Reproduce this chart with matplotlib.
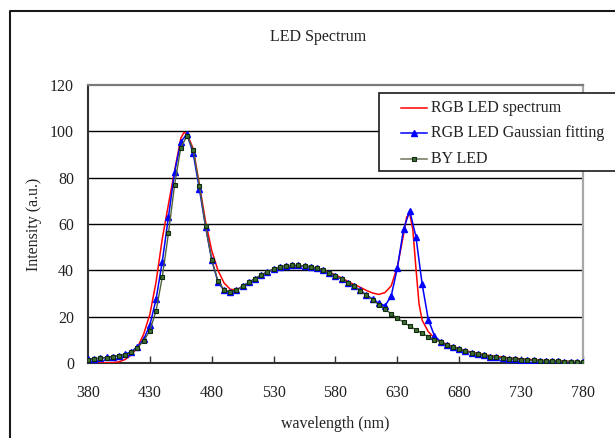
import numpy as np
import matplotlib
matplotlib.use("Agg")
import matplotlib.pyplot as plt
from matplotlib.lines import Line2D
from matplotlib.patches import Rectangle

plt.rcParams['font.family'] = ['Liberation Serif', 'DejaVu Serif']

# Wavelength grid of the sampled series (nm)
wavelength = list(range(380, 781, 5))

# BY LED measured spectrum
by_led = [1.5, 1.7, 2.0, 2.3, 2.7, 3.1, 3.6, 4.6, 6.6, 9.5,
          14.0, 22.5, 37.0, 56.0, 77.0, 93.0, 98.0, 92.0, 76.5, 59.0,
          44.5, 35.5, 31.5, 30.7, 31.5, 33.2, 34.8, 36.4, 38.0, 39.3,
          40.6, 41.4, 41.9, 42.1, 42.1, 41.9, 41.5, 40.9, 40.1, 39.0,
          37.6, 36.3, 34.7, 33.1, 31.2, 29.2, 27.3, 25.2, 23.3, 21.2,
          19.3, 17.6, 15.9, 14.3, 12.8, 11.4, 10.1, 8.9, 7.8, 6.8,
          5.9, 5.1, 4.4, 3.8, 3.3, 2.8, 2.4, 2.1, 1.8, 1.6,
          1.4, 1.2, 1.1, 1.0, 0.9, 0.8, 0.7, 0.6, 0.6, 0.5,
          0.5]

# RGB LED Gaussian fitting
rgb_fit = [1.6, 1.8, 2.1, 2.4, 2.8, 3.2, 3.8, 4.9, 7.0, 10.2,
           16.4, 27.5, 43.7, 63.0, 82.5, 95.5, 98.8, 90.5, 75.2, 58.8,
           44.5, 35.0, 31.3, 30.6, 31.4, 33.2, 34.8, 36.4, 38.0, 39.3,
           40.6, 41.4, 41.9, 42.1, 42.1, 41.9, 41.5, 40.9, 40.1, 39.0,
           37.6, 36.3, 34.7, 33.1, 31.3, 29.4, 27.6, 25.8, 24.7, 28.9,
           41.1, 57.8, 65.7, 54.5, 34.1, 18.7, 11.7, 9.2, 7.8, 6.8,
           5.9, 5.1, 4.4, 3.8, 3.3, 2.8, 2.4, 2.1, 1.8, 1.6,
           1.4, 1.2, 1.1, 1.0, 0.9, 0.8, 0.7, 0.6, 0.6, 0.5,
           0.5]

# RGB LED measured spectrum (denser sampling around the peaks)
rgb_wl = [380, 385, 390, 395, 400, 405, 410, 415, 420, 425,
          430, 435, 440, 445, 450, 455, 457.5, 460, 465, 470,
          475, 480, 485, 490, 495, 500, 505, 510, 515, 520,
          525, 530, 535, 540, 545, 550, 555, 560, 565, 570,
          575, 580, 585, 590, 595, 600, 605, 610, 615, 620,
          625, 630, 635, 637.5, 640, 642.5, 645, 647.5, 650, 655,
          660, 665, 670, 675, 680, 685, 690, 695, 700, 705,
          710, 715, 720, 725, 730, 735, 740, 745, 750, 755,
          760, 765, 770, 775, 780]
rgb_spec = [0.1, 0.1, 0.1, 0.1, 0.2, 0.5, 1.5, 3.5, 6.8, 12.5,
            21.0, 35.0, 53.5, 68.5, 83.0, 97.0, 99.5, 99.0, 92.5, 77.0,
            61.0, 48.5, 40.0, 34.5, 31.8, 31.6, 33.0, 34.6, 36.3, 37.9,
            39.3, 40.5, 41.4, 41.8, 42.0, 42.0, 41.8, 41.5, 40.9, 40.2,
            39.2, 38.0, 36.7, 35.2, 33.9, 32.7, 31.3, 30.2, 29.6, 30.4,
            33.3, 41.5, 55.5, 63.0, 64.5, 57.5, 41.0, 25.5, 18.5, 13.5,
            10.8, 9.2, 8.1, 7.1, 6.2, 5.4, 4.7, 4.1, 3.6, 3.2,
            2.8, 2.5, 2.2, 2.0, 1.8, 1.6, 1.4, 1.2, 1.1, 1.0,
            0.9, 0.8, 0.7, 0.6, 0.5]

x_ticks = list(range(380, 781, 50))
y_ticks = list(range(0, 121, 20))

W, H = 615, 438
fig = plt.figure(figsize=(W / 100, H / 100), dpi=100)
fig.patch.set_facecolor('white')

ax = fig.add_axes([88 / W, 1 - 363 / H, (583 - 88) / W, (363 - 85) / H])

red_c = '#ff0000'
blue_c = '#0000ff'
by_line_c = '#4f6238'
by_face_c = '#3f6f33'
by_edge_c = '#102a10'

ax.plot(rgb_wl, rgb_spec, color=red_c, lw=1.1, zorder=3)
ax.plot(wavelength, rgb_fit, color=blue_c, lw=1.1, marker='^', ms=4,
        mfc=blue_c, mec=blue_c, zorder=4)
ax.plot(wavelength, by_led, color=by_line_c, lw=1.0, marker='s', ms=3.3,
        mfc=by_face_c, mec=by_edge_c, mew=0.8, zorder=5)

ax.set_xlim(380, 780)
ax.set_ylim(0, 120)
ax.set_xticks(x_ticks)
ax.set_yticks(y_ticks)

# horizontal gridlines
for yv in y_ticks[1:-1]:
    ax.axhline(yv, color='black', lw=1.0, zorder=1)

for side in ['left', 'bottom']:
    ax.spines[side].set_color('#303030')
    ax.spines[side].set_linewidth(1.5)
ax.spines['top'].set_color('#7a7a7a')
ax.spines['top'].set_linewidth(1.6)
ax.spines['right'].set_color('#a8a8a8')
ax.spines['right'].set_linewidth(1.6)

ax.tick_params(axis='x', direction='in', length=5, width=1.0, color='#303030',
               pad=15.5, labelsize=11.5, labelcolor='#222222')
ax.tick_params(axis='y', length=0, pad=10, labelsize=11.5, labelcolor='#222222')

ax.set_xlabel('wavelength (nm)', fontsize=11.5, color='#222222', labelpad=11)
ax.set_ylabel('Intensity (a.u.)', fontsize=11.5, color='#222222', labelpad=6)
fig.text(318 / W, 1 - 37 / H, 'LED Spectrum', ha='center', va='center',
         fontsize=11.5, color='#222222')

# outer chart frame
fig.add_artist(Line2D([10 / W, 10 / W, 1.0], [0.0, 1 - 11 / H, 1 - 11 / H],
                      transform=fig.transFigure, color='#1a1a1a', lw=1.5))

# legend box
lx0, ly0, ly1 = 379, 93, 171
fig.add_artist(Rectangle((lx0 / W, 1 - ly1 / H), (W + 10 - lx0) / W, (ly1 - ly0) / H,
                         transform=fig.transFigure, facecolor='white',
                         edgecolor='#1a1a1a', lw=1.2, clip_on=False, zorder=10))
entries = [
    ('RGB LED spectrum', dict(color=red_c, lw=1.1)),
    ('RGB LED Gaussian fitting', dict(color=blue_c, lw=1.1, marker='^', ms=4,
                                      mfc=blue_c, mec=blue_c)),
    ('BY LED', dict(color='#7a8068', lw=1.2, marker='s', ms=3.3,
                    mfc=by_face_c, mec=by_edge_c, mew=0.8)),
]
row_y = [108, 133, 159]
for (label, style), ry in zip(entries, row_y):
    yf = 1 - ry / H
    fig.add_artist(Line2D([401 / W, 414 / W, 427 / W], [yf, yf, yf],
                          transform=fig.transFigure,
                          markevery=[1] if 'marker' in style else None,
                          zorder=11, **style))
    fig.text(431 / W, yf, label, ha='left', va='center', fontsize=11.5,
             color='#222222', zorder=11)

fig.savefig('out.png', dpi=100)
